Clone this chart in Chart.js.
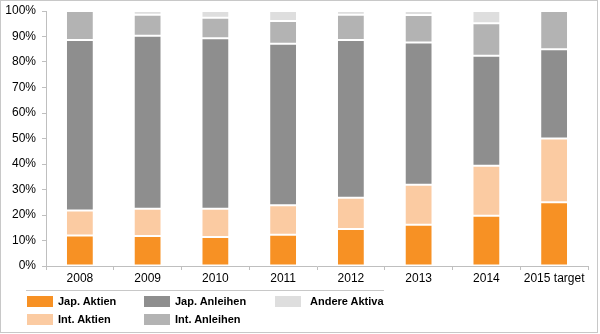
<!DOCTYPE html>
<html>
<head>
<meta charset="utf-8">
<script src="https://cdn.jsdelivr.net/npm/chart.js@4"></script>
<style>
  html, body { margin: 0; padding: 0; background: #fff; }
  #wrap { position: relative; width: 600px; height: 334px; font-family: Arial, 'Liberation Sans', sans-serif; }
  #chart { position: absolute; left: 0; top: 0; }
  #frame { position: absolute; left: 0; top: 0; width: 598px; height: 333px; border: 1px solid #c8c8c8; box-sizing: border-box; pointer-events: none; }
  #rule { position: absolute; left: 26px; top: 290px; width: 358px; border-top: 1px solid #c8c8c8; }
  .key { position: absolute; font-size: 11px; font-weight: bold; color: #000; line-height: 11px; white-space: nowrap; }
  .key i { position: absolute; left: 0; top: 0; width: 26px; height: 11px; }
  .key span { position: absolute; top: 0; }
</style>
</head>
<body>
<div id="wrap">
  <canvas id="chart" width="600" height="334"></canvas>
  <div id="rule"></div>
  <div id="legend"></div>
  <div id="frame"></div>
</div>
<script>
// Portfolio mix per year, shares in percent (bottom to top of each bar).
const years       = ['2008', '2009', '2010', '2011', '2012', '2013', '2014', '2015 target'];
const japAktien   = [12.0, 11.8, 11.4, 12.3, 14.5, 16.2, 19.7, 25.0];
const intAktien   = [ 9.8, 10.7, 11.1, 11.5, 12.3, 15.7, 19.6, 25.0];
const japAnleihen = [66.8, 67.8, 66.8, 63.4, 61.8, 55.7, 43.2, 35.0];
const intAnleihen = [11.4,  8.2,  8.1,  8.9,  9.9, 10.8, 12.7, 15.0];
const andere      = [ 0.0,  1.5,  2.6,  3.9,  1.5,  1.6,  4.8,  0.0];
const yTicks      = [0, 10, 20, 30, 40, 50, 60, 70, 80, 90, 100];

const AXIS = '#bfbfbf';
const FONT = "Arial, 'Liberation Sans', sans-serif";

const series = [
  { label: 'Jap. Aktien',   data: japAktien,   color: '#f79124' },
  { label: 'Int. Aktien',   data: intAktien,   color: '#fbcba2' },
  { label: 'Jap. Anleihen', data: japAnleihen, color: '#8e8e8e' },
  { label: 'Int. Anleihen', data: intAnleihen, color: '#b3b3b3' },
  { label: 'Andere Aktiva', data: andere,      color: '#dedede' },
];

new Chart(document.getElementById('chart'), {
  type: 'bar',
  data: {
    labels: years,
    datasets: series.map(s => ({
      label: s.label, data: s.data, backgroundColor: s.color,
      borderColor: 'rgba(255,255,255,0.45)', borderWidth: 1, borderSkipped: false,
      categoryPercentage: 1, barPercentage: 0.41,
    })),
  },
  options: {
    responsive: false, animation: false,
    layout: { padding: { top: 11, right: 12, left: 0, bottom: 0 } },
    plugins: { legend: { display: false }, tooltip: { enabled: false } },
    scales: {
      x: {
        stacked: true,
        grid: { drawOnChartArea: false, color: AXIS, tickLength: 4, offset: true },
        border: { color: AXIS },
        ticks: { color: '#000', font: { family: FONT, size: 12 }, padding: 1, maxRotation: 0 },
        afterFit: s => { s.height = 68; },
      },
      y: {
        stacked: true, min: 0, max: 100,
        afterBuildTicks: s => { s.ticks = yTicks.map(v => ({ value: v })); },
        grid: { drawOnChartArea: false, color: AXIS, tickLength: 4 },
        border: { color: AXIS },
        ticks: { color: '#000', font: { family: FONT, size: 12 }, padding: 6, callback: v => v + '%' },
        // fixed axis width; the top label may overhang the padding
        afterFit: s => { s.width = 46; s.paddingTop = 0; s.paddingBottom = 0; },
      },
    },
  },
});

// legend laid out in columns: [swatch x, text x, row top]
const slots = [[27, 58, 296], [27, 58, 314], [144, 175, 296], [144, 175, 314], [275, 310, 296]];
document.getElementById('legend').innerHTML = series.map((s, i) => {
  const [sx, tx, y] = slots[i];
  return `<div class="key" style="left:${sx}px;top:${y}px"><i style="background:${s.color}"></i>` +
         `<span style="left:${tx - sx}px">${s.label}</span></div>`;
}).join('');
</script>
</body>
</html>
